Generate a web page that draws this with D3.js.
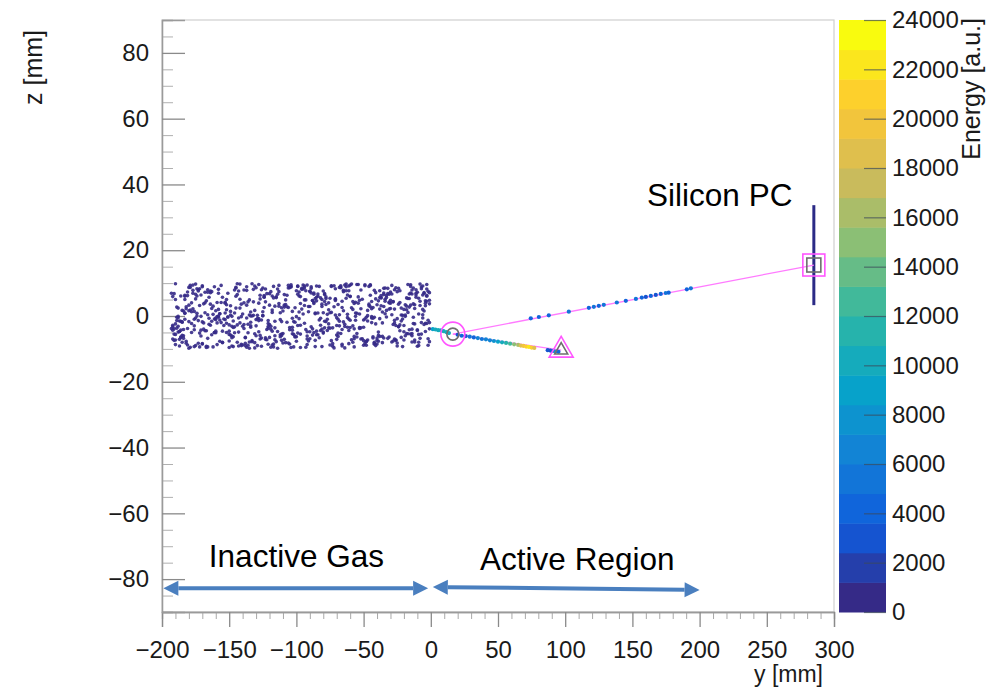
<!DOCTYPE html>
<html>
<head>
<meta charset="utf-8">
<script src="https://cdn.jsdelivr.net/npm/d3@7"></script>
<style>
  body { margin: 0; background: #fff; }
  svg { display: block; font-family: "Liberation Sans", Arial, Helvetica, sans-serif; }
</style>
</head>
<body>
<svg id="chart" width="991" height="689"></svg>
<script>
// ---- axis ranges and ticks ----
const yRange = [-200, 300];          // horizontal axis: y [mm]
const zRange = [-90, 90];            // vertical axis: z [mm]
const xTickLabels = [-200, -150, -100, -50, 0, 50, 100, 150, 200, 250, 300];
const zTickLabels = [-80, -60, -40, -20, 0, 20, 40, 60, 80];
const energyRange = [0, 24000];
const energyTickLabels = [0, 2000, 4000, 6000, 8000, 10000, 12000, 14000, 16000, 18000, 20000, 22000, 24000];
const energyBands = 20;

// ---- inactive gas hits (y, z in mm) ----
const gasY = [
-12,-187,-95,-143,-60,-171,-33,-118,-79,-154,-6,-131,-102,-45,-176,-88,-22,-164,-57,-139,
-108,-71,-190,-15,-126,-84,-149,-39,-181,-97,-3,-160,-52,-115,-67,-192,-28,-136,-91,-175,
-44,-122,-9,-168,-76,-146,-31,-101,-185,-63,-133,-18,-157,-85,-113,-49,-179,-36,-124,-70,
-152,-2,-93,-166,-41,-128,-81,-188,-24,-110,-58,-141,-14,-173,-99,-66,-135,-47,-183,-120,
-27,-161,-74,-106,-11,-147,-55,-189,-87,-130,-38,-170,-64,-116,-20,-155,-92,-43,-178,-104,
-138,-8,-83,-163,-50,-125,-16,-191,-72,-111,-35,-150,-98,-61,-180,-25,-132,-77,-5,-144,
-89,-169,-30,-119,-54,-186,-13,-100,-140,-68,-158,-42,-123,-1,-177,-80,-112,-29,-153,-62,
-121,-46,-184,-96,-19,-137,-73,-167,-4,-107,-56,-145,-86,-174,-34,-127,-69,-182,-10,-94,
-159,-40,-114,-78,-190,-23,-134,-59,-172,-103,-7,-148,-65,-129,-37,-165,-90,-17,-142,-82,
-48,-179,-105,-26,-151,-75,-117,-1,-186,-61,-136,-32,-92,-162,-53,-121,-14,-176,-84,-109,
-3,-156,-67,-127,-44,-188,-98,-21,-143,-79,-113,-36,-170,-58,-132,-9,-192,-87,-49,-161,
-118,-30,-75,-149,-12,-183,-101,-63,-137,-40,-167,-86,-24,-126,-70,-158,-2,-109,-55,-178,
-95,-150,-35,-116,-5,-173,-81,-141,-51,-190,-26,-106,-66,-131,-16,-164,-91,-46,-185,-123,
-73,-11,-154,-100,-39,-177,-62,-128,-20,-146,-88,-189,-33,-114,-57,-168,-7,-139,-80,-43,
-104,-181,-28,-135,-68,-160,-15,-93,-124,-48,-171,-83,-4,-152,-60,-110,-37,-187,-76,-130,
-19,-145,-97,-54,-175,-31,-119,-71,-191,-8,-134,-85,-42,-163,-103,-25,-148,-64,-115,-182,
-59,-10,-166,-90,-125,-47,-179,-22,-108,-140,-74,-155,-34,-97,-186,-13,-120,-52,-172,-82,
-142,-29,-112,-6,-159,-78,-129,-41,-184,-65,-102,-17,-147,-89,-53,-174,-1,-133,-72,-157,
-38,-122,-183,-57,-94,-14,-169,-111,-45,-138,-27,-192,-79,-117,-3,-151,-63,-99,-176,-32,
-86,-162,-18,-127,-69,-144,-50,-189,-105,-9,-136,-77,-173,-23,-92,-156,-44,-119,-61,-180,
-2,-107,-153,-36,-84,-178,-56,-131,-15,-165,-96,-40,-142,-70,-188,-26,-113,-81,-11,-146,
-67,-185,-48,-124,-7,-158,-101,-30,-171,-87,-137,-58,-193,-21,-109,-74,-150,-35,-128,-90,
-161,-43,-6,-116,-80,-181,-31,-143,-64,-98,-175,-12,-134,-52,-87,-167,-24,-121,-71,-190,
-112,-17,-149,-94,-39,-166,-62,-130,-4,-104,-184,-55,-139,-28,-78,-155,-47,-186,-99,-13,
-132,-66,-177,-20,-118,-85,-49,-160,-1,-141,-93,-37,-172,-106,-60,-125,-8,-152,-75,-183,
-27,-145,-88,-59,-191,-16,-103,-135,-42,-168,-76,-5,-123,-97,-180,-33,-147,-68,-114,-53,
-174,-10,-92,-157,-46,-126,-82,-187,-22,-111,-65,-148,-38,-170,-3,-100,-138,-56,-164,-29,
-79,-153,-14,-120,-69,-182,-41,-105,-163,-34,-90,-133,-61,-176,-19,-144,-85,-25,-117,-159,
-16,-171,-83,-134,-51,-190,-9,-113,-65,-147,-30,-161,-96,-4,-128,-74,-183,-42,-104,-155,
-58,-139,-21,-177,-88,-12,-119,-67,-192,-36,-150,-97,-5,-168,-80,-125,-45,-186,-108,-27,
-145,-70,-2,-160,-93,-131,-18,-175,-54,-116,-39,-189,-86,-143,-11,-102,-63,-166,-31,-122,
-7,-180,-77,-136,-48,-157,-99,-24,-170,-61,-111,-33,-184,-90,-14,-127,-72,-152,-41,-191,
-103,-28,-165,-56,-137,-82,-8,-179,-118,-44,-148,-95,-19,-172,-66,-131,-35,-187,-107,-60,
-141,-13,-92,-174,-50,-115,-26,-158,-84,-1,-133,-69,-182,-38,-98,-163,-23,-121,-75,-150,
-34,-188,-109,-57,-144,-3,-126,-81,-167,-47,-100,-15,-153,-71,-185,-29,-114,-89,-6,-138,
-176,-52,-120,-20,-162,-94,-43,-130,-10,-181,-68,-105,-37,-146,-85,-192,-55,-123,-17,-159,
-79,-135,-1,-169,-62,-112,-32,-187,-91,-49,-151,-25,-117,-73,-178,-9,-142,-101,-40,-164,
-121,-45,-185,-87,-14,-156,-64,-129,-35,-173,-103,-22,-148,-78,-6,-166,-53,-110,-190,-31,
-94,-160,-18,-140,-71,-183,-42,-116,-4,-134,-86,-57,-175,-27,-106,-152,-66,-12,-188,-124,
-38,-149,-99,-23,-170,-76,-128,-3,-158,-60,-111,-44,-180,-89,-15,-137,-81,-193,-50,-118
];
const gasZ = [
3.4,-7.1,8.2,-0.6,5.9,-4.3,1.7,-8.8,6.5,-2.9,0.4,9.1,-5.6,2.8,-9.3,4.7,-1.5,7.6,-6.2,-3.8,
-8.1,5.2,-2.4,9.5,-6.7,0.9,3.1,-4.9,7.3,-9.6,6.0,-1.1,2.2,-7.8,8.6,-3.3,4.4,-5.1,1.3,9.7,
-0.2,6.8,-9.0,4.0,-3.6,7.9,-6.4,2.5,-1.9,8.9,-7.5,5.5,0.7,-4.6,3.8,-8.4,9.3,-2.1,6.2,-5.8,
1.9,-6.9,4.9,-9.4,7.1,-0.8,3.6,-3.1,8.4,-5.3,2.0,-8.6,6.7,-1.4,9.0,-4.1,0.3,-7.3,5.0,-2.6,
8.0,-5.0,1.1,-8.2,6.4,-3.5,9.6,-0.4,4.2,-6.0,7.7,-1.8,-9.7,3.0,-4.8,5.7,-7.0,2.6,-2.3,8.8,
-6.6,4.5,-1.2,7.4,-8.9,0.1,5.3,-3.9,9.2,-5.5,2.9,-7.6,6.1,-0.9,3.3,-9.1,8.1,-4.4,1.5,-2.7,
7.0,-4.0,2.3,-9.5,5.8,-1.6,8.5,-6.3,0.6,-3.0,6.9,-8.0,4.3,-2.0,9.4,-5.2,1.0,-7.9,3.9,-0.5,
-3.2,9.0,-6.8,2.1,-0.1,7.8,-9.2,4.6,-4.7,6.3,-1.3,8.7,-7.4,0.8,5.1,-5.9,3.5,-8.3,7.2,-2.2,
4.1,-8.5,6.6,-1.7,9.8,-4.5,0.0,-7.2,3.2,-3.4,8.3,-6.1,1.6,-9.0,5.6,-0.7,7.5,-5.4,2.4,-2.8,
-7.7,1.8,-4.2,8.6,-0.3,5.4,-9.4,3.7,-6.5,9.1,-2.5,6.8,-8.7,0.5,4.8,-3.7,7.9,-1.0,-5.7,2.7,
6.3,-2.0,9.2,-7.0,4.4,-4.9,1.2,-9.3,7.6,-1.6,3.0,-6.2,8.9,-3.0,0.2,-8.0,5.9,-5.0,9.5,-0.9,
-4.6,7.3,-8.8,1.4,-2.4,6.0,-6.4,9.7,-0.6,3.4,-9.6,5.3,-3.3,8.0,-7.1,2.0,-1.3,6.5,-5.3,4.0,
0.6,-5.6,8.4,-3.6,6.9,-8.3,2.9,-0.2,-6.9,5.0,-2.9,9.3,-9.1,1.7,-4.2,7.1,-7.6,3.6,-1.8,8.2,
-8.4,5.7,-0.9,7.7,-5.9,2.2,-3.4,9.6,-7.3,0.9,4.7,-1.4,6.2,-9.8,3.8,-4.5,8.8,-2.6,1.0,-6.7,
9.0,-3.8,4.3,-7.9,0.4,-5.1,7.0,-9.5,2.6,-0.4,6.4,-6.6,3.1,-2.2,9.4,-8.2,5.5,-4.7,1.9,-1.1,
-6.0,8.5,-2.8,3.9,-9.0,6.6,-4.0,0.3,-7.4,9.7,-1.9,4.6,-8.6,2.3,-5.4,7.4,-0.1,-3.2,5.8,-7.7,
2.5,-9.2,7.2,-4.8,1.3,-1.5,8.7,-6.5,4.9,-3.1,9.2,-8.0,0.7,-5.5,6.1,-2.3,3.3,-7.0,8.3,-0.7,
-2.1,6.7,-5.7,9.1,-8.7,3.5,-0.8,5.2,-4.1,7.8,-9.4,1.1,-6.3,8.9,-3.5,0.0,4.8,-7.8,2.8,-1.2,
5.6,-7.2,0.8,-3.9,8.6,-6.0,3.7,-1.7,9.5,-9.0,2.1,-4.3,6.8,-8.5,4.5,-0.3,7.7,-5.2,1.4,-6.8,
-9.3,3.0,-5.3,6.3,-1.0,9.8,-7.5,2.7,-3.5,5.4,-8.9,0.5,8.0,-2.7,-6.1,4.1,-0.6,7.4,-4.4,1.6,
7.5,-1.9,4.2,-8.1,6.0,-5.0,0.9,-9.7,3.3,-2.5,8.4,-6.7,5.1,-0.5,2.4,-7.4,9.3,-4.0,6.9,-3.3,
-5.3,1.7,-8.9,5.8,-2.0,8.1,-6.2,3.9,-0.1,7.0,-9.5,4.4,-3.8,0.2,-7.1,9.0,-4.6,6.5,-1.4,2.9,
8.9,-6.3,2.0,-1.6,7.6,-8.8,4.0,-4.9,9.4,-0.8,5.2,-7.3,1.2,-3.6,6.6,-9.2,3.6,-2.3,8.3,-5.6,
-1.1,9.6,-5.8,3.2,-7.7,0.4,6.4,-3.0,4.6,-9.6,1.5,-6.4,7.9,-2.6,5.3,-8.1,0.1,-4.3,9.1,-0.4,
4.3,-8.6,7.8,-2.9,1.8,-5.7,9.2,-0.6,-7.8,3.6,-4.1,6.2,-9.4,2.6,-1.3,8.5,-6.8,5.0,-3.7,0.9,
-7.0,2.4,-3.9,9.7,-5.5,6.7,-0.7,4.9,-8.3,1.0,-2.4,7.1,-6.6,3.8,-9.8,5.6,-1.5,8.7,-4.7,0.6,
6.1,-4.4,9.4,-7.7,3.1,-1.2,5.5,-9.1,0.3,-5.9,7.4,-3.1,2.1,-8.4,8.2,-0.2,-6.5,4.2,-2.8,9.3,
-3.6,0.9,-7.9,6.8,-5.2,2.8,-9.0,8.6,-1.6,4.5,-6.9,0.0,7.7,-4.2,3.4,-8.0,5.7,-0.8,9.0,-2.1,
2.7,-6.1,9.0,-3.4,5.1,-8.7,0.6,7.4,-1.8,-9.3,4.8,-5.0,8.1,-2.2,3.9,-7.5,6.3,-0.4,9.5,-4.6,
-8.0,4.0,-0.9,6.9,-5.8,2.3,-3.1,8.8,-7.0,1.2,-9.6,5.9,-2.6,7.2,-4.9,0.1,9.3,-6.4,3.5,-1.3,
6.0,-2.9,-8.9,1.6,7.7,-5.4,3.0,-0.6,9.6,-7.2,4.6,-3.7,0.9,-9.1,8.0,-1.7,5.4,-6.8,2.1,-4.1,
-5.5,8.7,-1.0,4.3,-7.8,0.7,6.6,-3.2,9.2,-8.4,2.5,-0.3,-6.0,7.5,-4.0,5.2,-9.7,3.4,-2.4,6.8,
1.4,-7.6,5.7,-0.1,8.9,-4.4,3.2,-9.5,6.1,-2.0,-6.6,9.4,0.3,-5.2,4.5,-8.1,7.0,-1.5,2.8,-3.5,
-9.0,3.7,-4.8,8.3,-1.2,5.6,-7.3,0.0,6.7,-3.9,9.8,-6.2,2.2,-0.8,7.3,-5.7,4.1,-8.6,1.0,-2.7,
8.5,-0.5,3.3,-6.9,6.5,-2.3,-9.2,5.0,-4.5,1.7,-7.7,9.0,-1.1,4.7,-5.9,0.4,8.2,-3.3,6.4,-8.3,
-3.0,7.9,-6.5,2.0,-9.4,4.9,-0.7,8.6,-4.2,6.2,-1.6,-8.5,3.1,-5.1,9.1,-2.8,0.8,-7.1,5.3,-0.2,
4.4,-9.8,7.1,-2.1,0.5,-6.3,8.4,-4.7,2.9,-0.9,6.9,-8.2,5.5,-3.6,1.3,-5.6,9.7,-1.9,-7.4,3.6,
-1.4,6.3,-8.0,3.8,-5.3,9.3,-2.5,0.2,-6.7,7.6,-4.3,2.4,-9.1,5.8,-0.6,8.0,-3.8,1.5,-7.3,4.2,
9.1,-4.6,1.9,-8.8,5.1,-1.0,7.8,-6.0,3.9,-3.0,0.7,-9.4,6.6,-2.1,8.5,-5.0,2.6,-7.9,-0.1,5.7,
-6.2,0.3,-2.9,7.7,-8.5,4.0,-4.8,9.6,-0.4,6.0,-7.4,2.2,-1.7,8.4,-5.5,3.3,-9.3,6.9,-3.4,1.1
];

// ---- active-region hits: y, z [mm] and energy [a.u.] ----
const beamY = [1.5, 3.5, 5.5, 7.5, 9.5, 11.5, 13.5];
const beamZ = [-4.0, -4.1, -4.3, -4.4, -4.6, -4.9, -5.2];
const beamE = [9500, 10200, 9800, 10500, 9900, 10300, 9600];

const heavyY = [20, 23, 26, 29, 32, 35, 38, 41, 44, 47, 50, 53, 56, 59, 62, 65, 67, 69, 71, 73, 75, 77, 87, 89, 91, 93, 95];
const heavyZ = [-5.7, -6.0, -6.1, -6.3, -6.5, -6.7, -7.0, -7.1, -7.4, -7.6, -7.8, -8.0, -8.2, -8.4, -8.6, -8.8, -9.0, -9.1, -9.3, -9.4, -9.6, -9.7, -10.4, -10.5, -10.6, -10.8, -10.9];
const heavyE = [3000, 4000, 3500, 5000, 4500, 6000, 5500, 7000, 6500, 8000, 9000, 10000, 11500, 13000, 14500, 16500, 18000, 20000, 21500, 22500, 20500, 19000, 2500, 3500, 5000, 8000, 4000];

const lightY = [74.4, 80.4, 87.8, 102.7, 117.6, 121.3, 125.0, 128.7, 138.4, 145.1, 152.6, 157.0, 160.0, 163.7, 167.4, 171.1, 174.8, 177.0, 190.5, 193.5];
const lightZ = [-0.7, -0.3, 0.2, 1.3, 2.5, 2.8, 3.1, 3.4, 4.1, 4.6, 5.2, 5.6, 5.8, 6.1, 6.4, 6.7, 7.0, 7.1, 8.1, 8.4];
const lightE = [4000, 4500, 4000, 5000, 4500, 5000, 4000, 5500, 5000, 4500, 5000, 4000, 3000, 4500, 3500, 4000, 5000, 4500, 4000, 5000];

// ---- reconstructed points [y, z] ----
const vertexPos = [16.4, -5.5];
const stopPos = [97.0, -10.4];
const siliconHitPos = [285, 15.5];
const siliconDetector = { y: 285, z0: 3.3, z1: 33.7 };

// ---- kBird palette stops ----
const birdStops = [0, 0.125, 0.25, 0.375, 0.5, 0.625, 0.75, 0.875, 1];
const birdR = [0.2082, 0.0592, 0.0780, 0.0232, 0.1802, 0.5301, 0.8186, 0.9956, 0.9764];
const birdG = [0.1664, 0.3599, 0.5041, 0.6419, 0.7178, 0.7492, 0.7328, 0.7862, 0.9832];
const birdB = [0.5293, 0.8684, 0.8385, 0.7914, 0.6425, 0.4662, 0.3499, 0.1968, 0.0539];

// ---- drawing ----
const svg = d3.select("#chart");
const plot = { left: 162, right: 834, top: 20, bottom: 612 };

const x = d3.scaleLinear().domain(yRange).range([plot.left, plot.right]);
const y = d3.scaleLinear().domain(zRange).range([plot.bottom, plot.top]);

const bird = d3.scaleLinear()
  .domain(birdStops)
  .range(birdStops.map((_, i) => d3.rgb(birdR[i] * 255, birdG[i] * 255, birdB[i] * 255)))
  .interpolate(d3.interpolateRgb);
const bandWidth = (energyRange[1] - energyRange[0]) / energyBands;
const bandColor = i => bird(i / (energyBands - 1));
const energyColor = e => bandColor(Math.max(0, Math.min(energyBands - 1, Math.floor((e - energyRange[0]) / bandWidth))));

const FONT = 24;

// frame
svg.append("rect")
  .attr("x", plot.left).attr("y", plot.top)
  .attr("width", plot.right - plot.left).attr("height", plot.bottom - plot.top)
  .attr("fill", "none").attr("stroke", "#cfcfcf").attr("stroke-width", 1.2);

// x axis (ticks point downward)
const xMinor = d3.range(yRange[0], yRange[1] + 0.1, 10).filter(v => v % 50 !== 0);
const gxMinor = svg.append("g").attr("transform", `translate(0,${plot.bottom})`)
  .call(d3.axisBottom(x).tickValues(xMinor).tickSize(7).tickFormat(""));
const gx = svg.append("g").attr("transform", `translate(0,${plot.bottom})`)
  .call(d3.axisBottom(x).tickValues(xTickLabels).tickSize(15).tickPadding(14)
    .tickFormat(d => d < 0 ? "\u2212" + Math.abs(d) : d));
[gxMinor, gx].forEach(g => g.select(".domain").attr("stroke", "#9a9a9a").attr("stroke-width", 1.3));
gxMinor.selectAll(".tick line").attr("stroke", "#a8a8a8");
gx.selectAll(".tick line").attr("stroke", "#8a8a8a").attr("stroke-width", 1.3);
gx.selectAll(".tick text").attr("font-size", FONT).attr("fill", "#1a1a1a")
  .attr("font-family", "Liberation Sans, Arial, sans-serif");

// z axis (ticks point into the frame)
const zMinor = d3.range(zRange[0], zRange[1] + 0.1, 5).filter(v => v % 20 !== 0);
const gyMinor = svg.append("g").attr("transform", `translate(${plot.left},0)`)
  .call(d3.axisLeft(y).tickValues(zMinor).tickSize(-11).tickFormat(""));
const gy = svg.append("g").attr("transform", `translate(${plot.left},0)`)
  .call(d3.axisLeft(y).tickValues(zTickLabels).tickSize(-23).tickPadding(13));
[gyMinor, gy].forEach(g => g.select(".domain").attr("stroke", "#9a9a9a").attr("stroke-width", 1.3));
gyMinor.selectAll(".tick line").attr("stroke", "#b0b0b0");
gy.selectAll(".tick line").attr("stroke", "#8a8a8a").attr("stroke-width", 1.3);
gy.selectAll(".tick text").attr("font-size", FONT).attr("fill", "#1a1a1a")
  .attr("font-family", "Liberation Sans, Arial, sans-serif");

// axis titles
svg.append("text")
  .attr("transform", `translate(42,${plot.top + 10}) rotate(-90)`)
  .attr("text-anchor", "end").attr("font-size", 25).attr("fill", "#1a1a1a")
  .text("z [mm]");
svg.append("text")
  .attr("x", plot.right - 11).attr("y", 682)
  .attr("text-anchor", "end").attr("font-size", 23).attr("fill", "#1a1a1a")
  .text("y [mm]");

// inactive gas hits
svg.append("g").selectAll("circle")
  .data(gasY.map((v, i) => [v, gasZ[i]]))
  .join("circle")
  .attr("cx", d => x(d[0])).attr("cy", d => y(d[1]))
  .attr("r", 1.8)
  .attr("fill", bandColor(0)).attr("fill-opacity", 0.9);

// silicon detector
svg.append("line")
  .attr("x1", x(siliconDetector.y)).attr("x2", x(siliconDetector.y))
  .attr("y1", y(siliconDetector.z0)).attr("y2", y(siliconDetector.z1))
  .attr("stroke", "#2b2a86").attr("stroke-width", 3);

// reconstructed track lines
const trackColor = "#ff7bff";
[[vertexPos, siliconHitPos], [vertexPos, stopPos]].forEach(([a, b]) => {
  svg.append("line")
    .attr("x1", x(a[0])).attr("y1", y(a[1]))
    .attr("x2", x(b[0])).attr("y2", y(b[1]))
    .attr("stroke", trackColor).attr("stroke-width", 1.3);
});

// active-region hits coloured by energy
const hits = [];
beamY.forEach((v, i) => hits.push([v, beamZ[i], beamE[i]]));
heavyY.forEach((v, i) => hits.push([v, heavyZ[i], heavyE[i]]));
lightY.forEach((v, i) => hits.push([v, lightZ[i], lightE[i]]));
svg.append("g").selectAll("circle")
  .data(hits)
  .join("circle")
  .attr("cx", d => x(d[0])).attr("cy", d => y(d[1]))
  .attr("r", 2.1)
  .attr("fill", d => energyColor(d[2]));

// vertex, stopping point and silicon hit markers
const magenta = "#ff55ff", grey = "#6e6e6e";
const vx = x(vertexPos[0]), vy = y(vertexPos[1]);
svg.append("circle").attr("cx", vx).attr("cy", vy).attr("r", 12)
  .attr("fill", "none").attr("stroke", magenta).attr("stroke-width", 1.6);
svg.append("circle").attr("cx", vx).attr("cy", vy).attr("r", 6)
  .attr("fill", "none").attr("stroke", grey).attr("stroke-width", 1.6);

const tri = (cx, cy, s) => {
  const h = s * Math.sqrt(3) / 2;
  return `M${cx},${cy - h * 2 / 3}L${cx + s / 2},${cy + h / 3}L${cx - s / 2},${cy + h / 3}Z`;
};
const tx = x(stopPos[0]), ty = y(stopPos[1]);
svg.append("path").attr("d", tri(tx, ty, 24))
  .attr("fill", "none").attr("stroke", magenta).attr("stroke-width", 1.6);
svg.append("path").attr("d", tri(tx, ty, 13))
  .attr("fill", "none").attr("stroke", grey).attr("stroke-width", 1.6);

const sx = x(siliconHitPos[0]), sy = y(siliconHitPos[1]);
svg.append("rect").attr("x", sx - 11).attr("y", sy - 11).attr("width", 22).attr("height", 22)
  .attr("fill", "none").attr("stroke", magenta).attr("stroke-width", 1.6);
svg.append("rect").attr("x", sx - 7).attr("y", sy - 7).attr("width", 14).attr("height", 14)
  .attr("fill", "none").attr("stroke", grey).attr("stroke-width", 1.6);

// colour bar
const cbar = { left: 839, right: 886 };
const c = d3.scaleLinear().domain(energyRange).range([plot.bottom, plot.top]);
svg.append("g").selectAll("rect")
  .data(d3.range(energyBands))
  .join("rect")
  .attr("x", cbar.left)
  .attr("y", i => c((i + 1) * bandWidth))
  .attr("width", cbar.right - cbar.left)
  .attr("height", i => c(i * bandWidth) - c((i + 1) * bandWidth) + 0.5)
  .attr("fill", i => bandColor(i));
const gc = svg.append("g").attr("transform", `translate(${cbar.right},0)`)
  .call(d3.axisRight(c).tickValues(energyTickLabels).tickSize(-22).tickPadding(6).tickFormat(d3.format("d")));
gc.select(".domain").remove();
gc.selectAll(".tick line").attr("stroke", "#3c4a5a").attr("stroke-width", 1.2).attr("stroke-opacity", 0.7);
gc.selectAll(".tick text").attr("font-size", FONT).attr("fill", "#1a1a1a")
  .attr("font-family", "Liberation Sans, Arial, sans-serif");
svg.append("text")
  .attr("transform", `translate(980,${plot.top - 2}) rotate(-90)`)
  .attr("text-anchor", "end").attr("font-size", 25).attr("fill", "#1a1a1a")
  .text("Energy [a.u.]");

// region annotations
const arrowBlue = "#4a7fbf";
const arrowBetween = (y0, y1, z0, z1) => {
  const x0 = x(y0), x1 = x(y1), p0 = y(z0), p1 = y(z1);
  const ang = Math.atan2(p1 - p0, x1 - x0);
  const len = 15, half = 7.5;
  const g = svg.append("g");
  g.append("line")
    .attr("x1", x0 + len * Math.cos(ang)).attr("y1", p0 + len * Math.sin(ang))
    .attr("x2", x1 - len * Math.cos(ang)).attr("y2", p1 - len * Math.sin(ang))
    .attr("stroke", arrowBlue).attr("stroke-width", 4);
  const head = (hx, hy, dir) => {
    const bx = hx - dir * len * Math.cos(ang), by = hy - dir * len * Math.sin(ang);
    const nx = -Math.sin(ang) * half, ny = Math.cos(ang) * half;
    g.append("path")
      .attr("d", `M${hx},${hy}L${bx + nx},${by + ny}L${bx - nx},${by - ny}Z`)
      .attr("fill", arrowBlue);
  };
  head(x1, p1, 1);
  head(x0, p0, -1);
};
arrowBetween(-199, -2, -82.8, -82.8);
arrowBetween(1.5, 200, -82.4, -83.3);

const annoFont = 31.5;
svg.append("text").attr("x", x(-100)).attr("y", y(-76.3))
  .attr("text-anchor", "middle").attr("font-size", annoFont).attr("fill", "#000")
  .text("Inactive Gas");
svg.append("text").attr("x", x(109)).attr("y", y(-77.2))
  .attr("text-anchor", "middle").attr("font-size", annoFont).attr("fill", "#000")
  .text("Active Region");
svg.append("text").attr("x", x(215)).attr("y", y(33.4))
  .attr("text-anchor", "middle").attr("font-size", annoFont).attr("fill", "#000")
  .text("Silicon PC");
</script>
</body>
</html>
